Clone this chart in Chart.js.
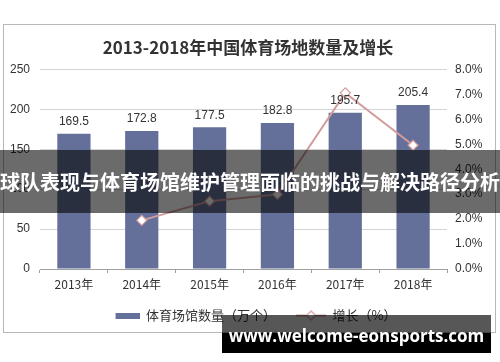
<!DOCTYPE html>
<html lang="zh">
<head>
<meta charset="UTF-8" />
<title>2013-2018年中国体育场地数量及增长</title>
<script src="https://cdn.jsdelivr.net/npm/chart.js"></script>
<style>
  html, body { margin: 0; padding: 0; background: #fff; }
  #wrap { position: relative; width: 500px; height: 362px; overflow: hidden; }
  #frame {
    position: absolute; left: 3px; top: 24px; width: 491px; height: 307px;
    border: 1px solid #b8b8b8; box-sizing: content-box;
  }
  canvas#chart { position: absolute; left: 0; top: 0; }
  #banner {
    position: absolute; left: 0; top: 150px; width: 500px; height: 63px;
    background: rgba(0, 0, 0, 0.58); color: #fff;
    font: bold 20px "Noto Sans CJK SC", sans-serif;
    line-height: 63px; text-align: center; white-space: nowrap; overflow: hidden;
  }
  #mark-top {
    position: absolute; left: 222px; top: 315px; width: 269px; height: 18px;
    background: rgba(0, 0, 0, 0.66);
  }
  #mark-bottom {
    position: absolute; left: 222px; top: 333px; width: 269px; height: 20px;
    background: #000;
  }
  #mark-text {
    position: absolute; left: 222px; top: 323px; width: 269px; height: 26px;
    color: #fff; font: bold 17px "Open Sans", sans-serif; line-height: 26px;
    text-align: center; white-space: nowrap;
  }
</style>
</head>
<body>
<div id="wrap">
  <div id="frame"></div>
  <canvas id="chart" width="500" height="362"></canvas>
  <div id="banner">球队表现与体育场馆维护管理面临的挑战与解决路径分析</div>
  <div id="mark-top"></div>
  <div id="mark-bottom"></div>
  <div id="mark-text">www.welcome-eonsports.com</div>
</div>

<script>
const years = ["2013年", "2014年", "2015年", "2016年", "2017年", "2018年"];
const venues = [169.5, 172.8, 177.5, 182.8, 195.7, 205.4];   // 万个
const growth = [null, 1.95, 2.72, 2.99, 7.06, 4.96];          // %

const barColor = "#64709a";
const lineColor = "#d39c9c";
const textColor = "#333";

// legend swatches (40px wide, drawn right-aligned)
function barSwatch() {
  const c = document.createElement("canvas");
  c.width = 40; c.height = 6;
  const g = c.getContext("2d");
  g.fillStyle = barColor;
  g.fillRect(16, 0, 24, 6);
  return c;
}
function lineSwatch() {
  const c = document.createElement("canvas");
  c.width = 40; c.height = 12;
  const g = c.getContext("2d");
  g.strokeStyle = lineColor;
  g.lineWidth = 2;
  g.beginPath(); g.moveTo(10, 6); g.lineTo(40, 6); g.stroke();
  g.fillStyle = "#fff";
  g.lineWidth = 1.2;
  g.beginPath();
  g.moveTo(25, 1.5); g.lineTo(29.5, 6); g.lineTo(25, 10.5); g.lineTo(20.5, 6); g.closePath();
  g.fill(); g.stroke();
  return c;
}

// value labels above the bars
const barLabels = {
  id: "barLabels",
  afterDatasetsDraw(chart) {
    const ctx = chart.ctx;
    const meta = chart.getDatasetMeta(1);
    ctx.save();
    ctx.font = "12px 'Liberation Sans', Arial, sans-serif";
    ctx.fillStyle = textColor;
    ctx.textAlign = "center";
    ctx.textBaseline = "middle";
    meta.data.forEach((bar, i) => {
      ctx.fillText(venues[i].toFixed(1), bar.x, bar.y - 12);
    });
    ctx.restore();
  }
};

new Chart(document.getElementById("chart"), {
  data: {
    labels: years,
    datasets: [
      {
        type: "line",
        label: "增长（%）",
        data: growth,
        yAxisID: "y1",
        borderColor: lineColor,
        borderWidth: 2,
        pointStyle: "rectRot",
        pointRadius: 5,
        pointBackgroundColor: "#fff",
        pointBorderColor: lineColor,
        pointBorderWidth: 1.2,
        tension: 0,
        order: 0
      },
      {
        type: "bar",
        label: "体育场馆数量（万个）",
        data: venues,
        yAxisID: "y",
        backgroundColor: barColor,
        categoryPercentage: 1,
        barPercentage: 0.49,
        order: 1
      }
    ]
  },
  options: {
    responsive: false,
    animation: false,
    layout: { padding: { top: 25, left: 4, right: 8, bottom: 30 } },
    plugins: {
      title: {
        display: true,
        text: "2013-2018年中国体育场地数量及增长",
        color: textColor,
        font: { size: 17, weight: "bold", family: "'Noto Sans CJK SC', sans-serif" },
        padding: { top: 12, bottom: 12 }
      },
      legend: {
        position: "bottom",
        labels: {
          usePointStyle: true,
          pointStyleWidth: 40,
          color: textColor,
          padding: 10,
          font: { size: 13, family: "'Noto Sans CJK SC', sans-serif" },
          generateLabels(chart) {
            return [
              { text: "体育场馆数量（万个）", pointStyle: barSwatch(), fontColor: textColor, datasetIndex: 1, lineWidth: 0, strokeStyle: "transparent" },
              { text: "增长（%）", pointStyle: lineSwatch(), fontColor: textColor, datasetIndex: 0, lineWidth: 0, strokeStyle: "transparent" }
            ];
          }
        }
      },
      tooltip: { enabled: false }
    },
    scales: {
      x: {
        offset: true,
        grid: { offset: true, drawOnChartArea: false, drawTicks: true, tickLength: 4, color: "#a0a0a0" },
        border: { display: true, color: "#a0a0a0" },
        ticks: { color: textColor, padding: 4, font: { size: 12, family: "'Noto Sans CJK SC', sans-serif" } },
        afterFit(scale) { scale.height = 30; }
      },
      y: {
        position: "left",
        min: 0, max: 250,
        ticks: { stepSize: 50, color: textColor, padding: 10, font: { size: 12, family: "'Liberation Sans', Arial, sans-serif" } },
        grid: { color: "#d4d4d4", drawTicks: false },
        border: { display: false },
        afterFit(scale) { scale.width = 36; }
      },
      y1: {
        position: "right",
        min: 0, max: 8,
        ticks: {
          stepSize: 1, color: textColor, padding: 8,
          font: { size: 12, family: "'Liberation Sans', Arial, sans-serif" },
          callback: v => v.toFixed(1) + "%"
        },
        grid: { drawOnChartArea: false, drawTicks: false },
        border: { display: false },
        afterFit(scale) { scale.width = 45; }
      }
    }
  },
  plugins: [barLabels]
});
</script>
</body>
</html>
